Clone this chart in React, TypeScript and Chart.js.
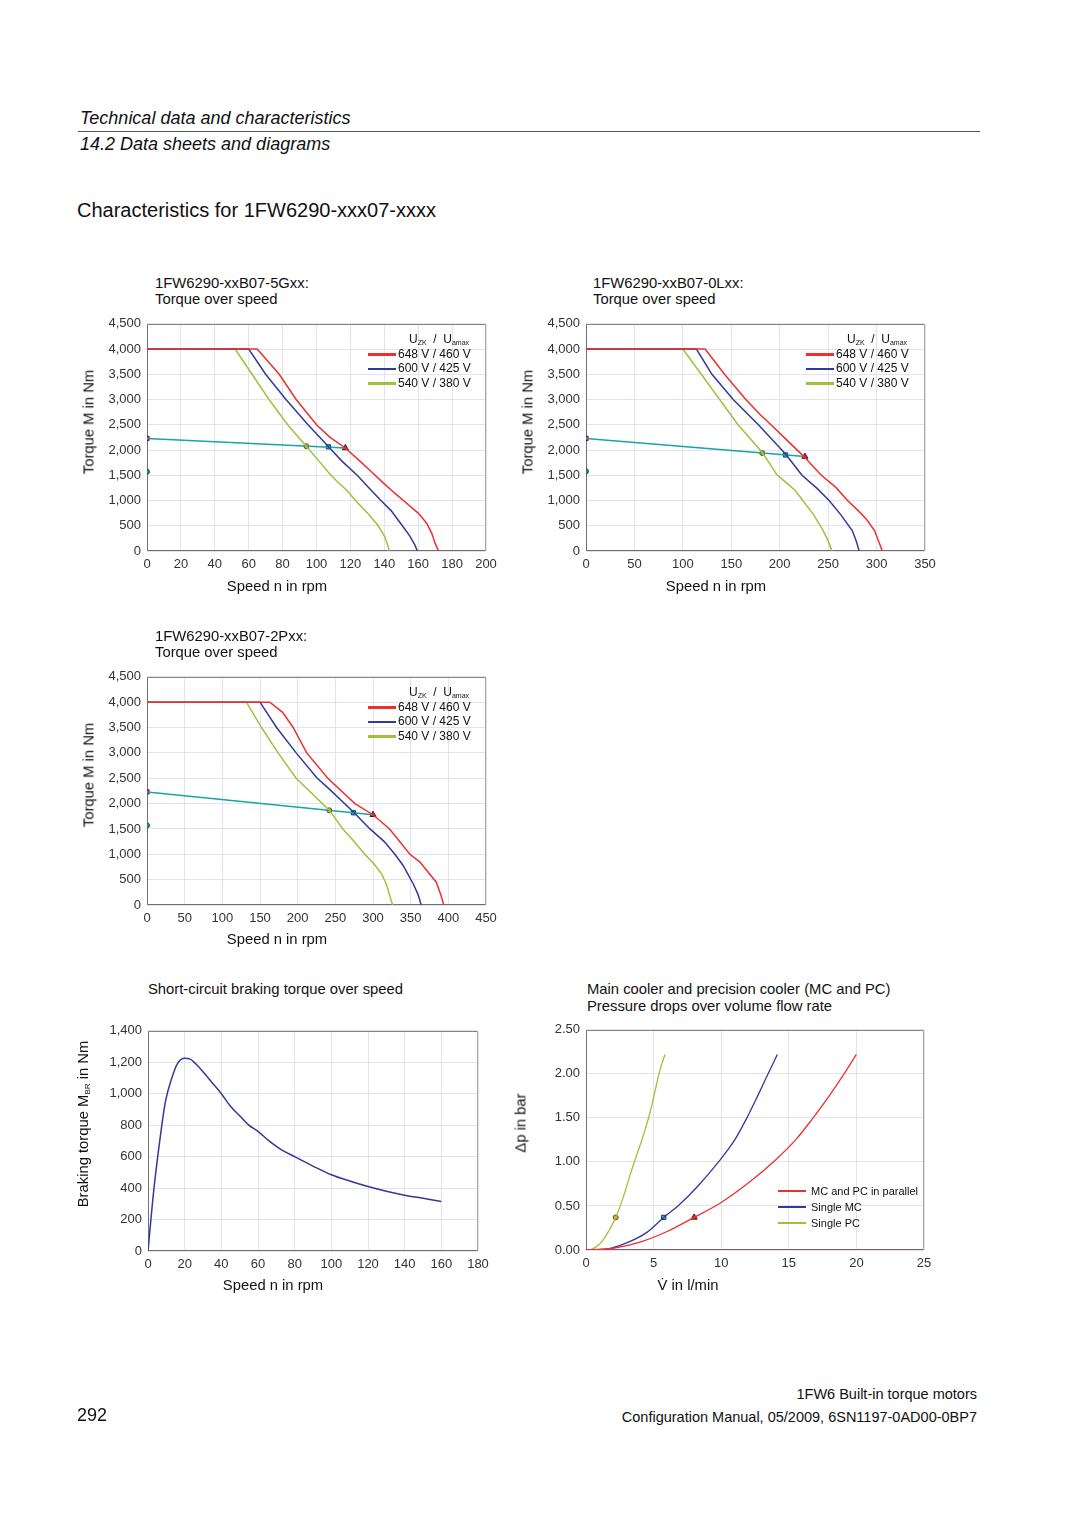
import React, { useEffect, useRef } from "react";
import { Chart, registerables } from "chart.js";
Chart.register(...registerables);

const FONT = '"Liberation Sans", Arial, Helvetica, sans-serif';

const RED = "#ec3030";
const BLUE = "#323a98";
const GREEN = "#9cc43a";
const TEAL = "#1aa3a8";

// ---------- Chart 1: 1FW6290-xxB07-5Gxx ----------
const c1Red = [[0,4000],[65,4000],[78,3500],[88,3000],[100,2500],[108,2250],[117,2040],[125,1800],[133,1550],[140,1330],[146,1150],[153,950],[160,750],[165,550],[168,350],[170,150],[172,0]];
const c1Blue = [[0,4000],[60,4000],[70,3500],[82,3000],[95,2500],[107,2070],[115,1780],[124,1500],[131,1250],[138,1000],[144,800],[150,530],[155,300],[158,120],[159.5,0]];
const c1Green = [[0,4000],[52,4000],[62,3500],[72,3000],[83,2500],[94,2075],[101,1800],[107,1560],[112,1380],[118,1200],[123,1000],[131,720],[136,520],[140,300],[142,120],[143,0]];
const c1Teal = [[0,2230],[117,2040]];
const c1Pts = { start: [0,2230], cont: [0,1570], orange: [94,2077], cyan: [107,2063], tri: [117,2040] };

// ---------- Chart 2: 1FW6290-xxB07-0Lxx ----------
const c2Red = [[0,4000],[123,4000],[143,3500],[165,3000],[180,2700],[191,2500],[205,2240],[225,1870],[243,1500],[258,1260],[270,1000],[281,800],[290,620],[298,400],[302,200],[306,0]];
const c2Blue = [[0,4000],[114,4000],[130,3500],[152,3000],[178,2500],[206,1920],[223,1500],[238,1250],[251,1000],[263,720],[275,400],[279,200],[282,0]];
const c2Green = [[0,4000],[100,4000],[119,3500],[138,3000],[157,2500],[182,1950],[190,1720],[197,1510],[204,1400],[210,1300],[216,1200],[223,1020],[235,720],[245,400],[250,200],[254,0]];
const c2Teal = [[0,2230],[226,1870]];
const c2Pts = { start: [0,2230], cont: [0,1580], orange: [182,1940], cyan: [206,1902], tri: [226,1870] };

// ---------- Chart 3: 1FW6290-xxB07-2Pxx ----------
const c3Red = [[0,4000],[163,4000],[180,3800],[194,3500],[212,3000],[240,2500],[276,2000],[300,1780],[322,1500],[349,1000],[362,850],[384,450],[390,200],[394,0]];
const c3Blue = [[0,4000],[150,4000],[172,3500],[198,3000],[226,2500],[241,2300],[274,1835],[296,1500],[315,1250],[329,1000],[340,780],[354,400],[360,200],[364,0]];
const c3Green = [[0,4000],[132,4000],[152,3500],[174,3000],[198,2500],[242,1870],[260,1500],[275,1250],[289,1000],[302,800],[312,600],[318,400],[322,200],[326,0]];
const c3Teal = [[0,2230],[300,1780]];
const c3Pts = { start: [0,2230], cont: [0,1570], orange: [242,1867], cyan: [274,1819], tri: [300,1780] };

// ---------- Chart 4: short-circuit braking torque ----------
const c4Brake = [[0,0],[3,370],[6.4,700],[9.5,950],[13,1100],[16,1190],[20,1225],[23,1220],[26,1190],[30,1140],[35,1070],[40,1000],[45,920],[50,860],[55,800],[60,760],[66,700],[72,650],[80,600],[90,540],[100,485],[110,445],[120,410],[130,380],[140,355],[150,335],[160,315]];

// ---------- Chart 5: pressure drops ----------
const c5Parallel = [[0,0],[2,0.02],[4,0.09],[6,0.21],[8,0.37],[10,0.54],[12,0.76],[14,1.02],[15.5,1.25],[16.7,1.48],[17.9,1.73],[19,1.98],[20,2.22]];
const c5SingleMC = [[0,0],[1.5,0.01],[3,0.08],[4.5,0.2],[5.75,0.37],[6.8,0.5],[8.3,0.73],[9.8,1.0],[11,1.25],[11.9,1.5],[12.7,1.75],[13.47,2.0],[14.15,2.22]];
const c5SinglePC = [[0.3,0],[0.7,0.03],[1.2,0.1],[1.7,0.22],[2.2,0.37],[2.8,0.62],[3.3,0.87],[3.8,1.1],[4.3,1.33],[4.75,1.57],[5.1,1.8],[5.45,2.03],[5.84,2.22]];
const c5Pts = { orange: [2.2,0.37], cyan: [5.75,0.37], tri: [8.0,0.37] };

const torqueLegend = ["648 V / 460 V", "600 V / 425 V", "540 V / 380 V"];
const coolerLegend = ["MC and PC in parallel", "Single MC", "Single PC"];

const xy = (arr: number[][]) => arr.map(([x, y]) => ({ x, y }));

const lineDs = (data: number[][], color: string, width = 1.5, smooth = false) => ({
  data: xy(data),
  showLine: true,
  borderColor: color,
  backgroundColor: color,
  borderWidth: width,
  pointRadius: 0,
  tension: 0,
  cubicInterpolationMode: smooth ? "monotone" : "default",
});

const markerDs = (p: number[], style: string, fill: string, border: string, r = 3.5) => ({
  data: [{ x: p[0], y: p[1] }],
  showLine: false,
  pointStyle: style,
  pointRadius: r,
  backgroundColor: fill,
  borderColor: border,
  borderWidth: 1,
});

const framePlugin = {
  id: "frame",
  beforeDatasetsDraw(chart: any, _a: any, o: any) {
    const { ctx, chartArea: a } = chart;
    const l = Math.round(a.left) + 0.5, r = Math.round(a.right) - 0.5;
    const t = Math.round(a.top) + 0.5, b = Math.round(a.bottom) - 0.5;
    const seg = (x1: number, y1: number, x2: number, y2: number, c: string) => {
      ctx.beginPath(); ctx.strokeStyle = c; ctx.lineWidth = 1;
      ctx.moveTo(x1, y1); ctx.lineTo(x2, y2); ctx.stroke();
    };
    ctx.save();
    seg(l, t, r, t, o.top || "#a07878");
    seg(r, t, r, b, o.right || "#a8a8a8");
    seg(l, b, r, b, o.bottom || "#707070");
    seg(l, t, l, b, o.left || "#707070");
    ctx.restore();
  },
};

const PAD_L = 60, PAD_T = 12, PAD_R = 24, PAD_B = 30;

function makeConfig(datasets: any[], xMax: number, xStep: number, yMax: number, yStep: number, yFmt?: (v: number) => string, bottomColor?: string) {
  const tickFont = { family: FONT, size: 13 };
  const grid = { color: "#e3e3f0", drawTicks: false, lineWidth: 1 };
  return {
    type: "scatter",
    data: { datasets },
    plugins: [framePlugin],
    options: {
      animation: false,
      responsive: false,
      devicePixelRatio: 1,
      layout: { padding: { left: 0, top: PAD_T, right: PAD_R, bottom: 0 } },
      plugins: {
        legend: { display: false },
        tooltip: { enabled: false },
        frame: { bottom: bottomColor },
      },
      scales: {
        x: {
          type: "linear", min: 0, max: xMax,
          ticks: { stepSize: xStep, padding: 6, color: "#333", font: tickFont, maxRotation: 0, autoSkip: false },
          grid, border: { display: false },
          afterFit: (s: any) => { s.height = PAD_B; },
        },
        y: {
          type: "linear", min: 0, max: yMax,
          ticks: { stepSize: yStep, padding: 6, color: "#333", font: tickFont, autoSkip: false, ...(yFmt ? { callback: (v: any) => yFmt(Number(v)) } : {}) },
          grid, border: { display: false },
          afterFit: (s: any) => { s.width = PAD_L; },
        },
      },
    },
  };
}

function torqueDatasets(red: number[][], blue: number[][], green: number[][], teal: number[][], pts: any) {
  return [
    lineDs(red, RED),
    lineDs(blue, BLUE),
    lineDs(green, GREEN),
    lineDs(teal, TEAL),
    markerDs(pts.start, "rect", "#e6197f", "#7a1040", 3),
    markerDs(pts.cont, "circle", "#1e9a4a", "#0d5a2a", 2.5),
    markerDs(pts.orange, "circle", "#f0a030", "#6a4a10", 2.5),
    markerDs(pts.cyan, "rect", "#30b8e8", "#103a5a", 3),
    markerDs(pts.tri, "triangle", "#cc2030", "#601010", 3.5),
  ];
}

function Plot({ L, T, R, B, config }: { L: number; T: number; R: number; B: number; config: () => any }) {
  const ref = useRef<HTMLCanvasElement>(null);
  const w = R - L + PAD_L + PAD_R;
  const h = B - T + PAD_T + PAD_B;
  useEffect(() => {
    const chart = new Chart(ref.current as HTMLCanvasElement, config() as any);
    return () => chart.destroy();
  }, []);
  return (
    <canvas ref={ref} width={w} height={h}
      style={{ position: "absolute", left: L - PAD_L, top: T - PAD_T, width: w, height: h }} />
  );
}

function Txt({ x, y, size = 14.8, align = "left", italic = false, children }: any) {
  const lh = size * 1.15;
  const style: any = {
    position: "absolute", top: y - lh / 2, lineHeight: `${lh}px`, fontSize: size,
    fontFamily: FONT, color: "#111", whiteSpace: "nowrap", fontStyle: italic ? "italic" : "normal",
  };
  if (align === "left") style.left = x;
  else if (align === "right") style.right = 1080 - x;
  else { style.left = x; style.transform = "translateX(-50%)"; }
  return <div style={style}>{children}</div>;
}

function VTxt({ x, y, size = 14.8, children }: any) {
  return (
    <div style={{
      position: "absolute", left: x, top: y, fontSize: size, fontFamily: FONT, color: "#111",
      whiteSpace: "nowrap", lineHeight: `${size * 1.15}px`,
      transform: "translate(-50%, -50%) rotate(-90deg)",
    }}>{children}</div>
  );
}

function Legend({ x, y, labels, colors, size = 12, gap = 14.5, lineW = 28, textX = 30, header = true, headerX = 41 }: any) {
  return (
    <>
      {header && (
        <div style={{ position: "absolute", left: x + headerX, top: y - 7.5, fontSize: size, fontFamily: FONT, color: "#111", whiteSpace: "nowrap", lineHeight: "14px" }}>
          U<sub style={{ fontSize: 7, verticalAlign: "-2px" }}>ZK</sub>&nbsp;&nbsp;/&nbsp;&nbsp;U<sub style={{ fontSize: 7, verticalAlign: "-2px" }}>amax</sub>
        </div>
      )}
      {labels.map((l: string, i: number) => {
        const cy = y + (header ? gap + 1 : 0) + i * gap;
        return (
          <React.Fragment key={i}>
            <div style={{ position: "absolute", left: x, top: cy - 1.25, width: lineW, height: 2.5, background: colors[i] }} />
            <Txt x={x + textX} y={cy} size={size}>{l}</Txt>
          </React.Fragment>
        );
      })}
    </>
  );
}

const fmt2 = (v: number) => v.toFixed(2);

export default function App() {
  return (
    <div style={{ position: "absolute", left: 0, top: 0, width: 1080, height: 1527, background: "#fff", overflow: "hidden" }}>
      <Txt x={80} y={118} size={18} italic>Technical data and characteristics</Txt>
      <div style={{ position: "absolute", left: 78, top: 131, width: 902, height: 1, background: "#555" }} />
      <Txt x={80} y={144} size={18} italic>14.2 Data sheets and diagrams</Txt>
      <Txt x={77} y={210} size={20}>Characteristics for 1FW6290-xxx07-xxxx</Txt>

      {/* Chart 1 */}
      <Txt x={155} y={284}>1FW6290-xxB07-5Gxx:</Txt>
      <Txt x={155} y={300}>Torque over speed</Txt>
      <Plot L={147} T={322} R={486} B={551}
        config={() => makeConfig(torqueDatasets(c1Red, c1Blue, c1Green, c1Teal, c1Pts), 200, 20, 4500, 500)} />
      <Legend x={368} y={339} labels={torqueLegend} colors={[RED, BLUE, GREEN]} />
      <VTxt x={89} y={422}>Torque M in Nm</VTxt>
      <Txt x={277} y={587} align="center">Speed n in rpm</Txt>

      {/* Chart 2 */}
      <Txt x={593} y={284}>1FW6290-xxB07-0Lxx:</Txt>
      <Txt x={593} y={300}>Torque over speed</Txt>
      <Plot L={586} T={322} R={925} B={551}
        config={() => makeConfig(torqueDatasets(c2Red, c2Blue, c2Green, c2Teal, c2Pts), 350, 50, 4500, 500)} />
      <Legend x={806} y={339} labels={torqueLegend} colors={[RED, BLUE, GREEN]} />
      <VTxt x={528} y={422}>Torque M in Nm</VTxt>
      <Txt x={716} y={587} align="center">Speed n in rpm</Txt>

      {/* Chart 3 */}
      <Txt x={155} y={637}>1FW6290-xxB07-2Pxx:</Txt>
      <Txt x={155} y={653}>Torque over speed</Txt>
      <Plot L={147} T={675} R={486} B={905}
        config={() => makeConfig(torqueDatasets(c3Red, c3Blue, c3Green, c3Teal, c3Pts), 450, 50, 4500, 500)} />
      <Legend x={368} y={692} labels={torqueLegend} colors={[RED, BLUE, GREEN]} />
      <VTxt x={89} y={775}>Torque M in Nm</VTxt>
      <Txt x={277} y={940} align="center">Speed n in rpm</Txt>

      {/* Chart 4 */}
      <Txt x={148} y={990}>Short-circuit braking torque over speed</Txt>
      <Plot L={148} T={1029} R={478} B={1251}
        config={() => makeConfig([lineDs(c4Brake, BLUE, 1.5, true)], 180, 20, 1400, 200)} />
      <VTxt x={86} y={1124}>Braking torque M<sub style={{ fontSize: 8, verticalAlign: "-2px" }}>BR</sub> in Nm</VTxt>
      <Txt x={273} y={1286} align="center">Speed n in rpm</Txt>

      {/* Chart 5 */}
      <Txt x={587} y={990}>Main cooler and precision cooler (MC and PC)</Txt>
      <Txt x={587} y={1007}>Pressure drops over volume flow rate</Txt>
      <Plot L={586} T={1028} R={924} B={1250}
        config={() => makeConfig([
          lineDs(c5Parallel, RED, 1.3, true),
          lineDs(c5SingleMC, BLUE, 1.3, true),
          lineDs(c5SinglePC, GREEN, 1.3, true),
          markerDs(c5Pts.orange, "circle", "#f0a030", "#6a4a10", 2.5),
          markerDs(c5Pts.cyan, "rect", "#30b8e8", "#103a5a", 3),
          markerDs(c5Pts.tri, "triangle", "#cc2030", "#601010", 3.5),
        ], 25, 5, 2.5, 0.5, fmt2, "#8a5a62")} />
      <Legend x={778} y={1191} labels={coolerLegend} colors={[RED, BLUE, GREEN]} size={11} gap={16} textX={33} header={false} />
      <VTxt x={521} y={1123}>Δp in bar</VTxt>
      <Txt x={688} y={1286} align="center">V̇ in l/min</Txt>

      {/* Footer */}
      <Txt x={977} y={1394} size={14.5} align="right">1FW6 Built-in torque motors</Txt>
      <Txt x={977} y={1417} size={14.5} align="right">Configuration Manual, 05/2009, 6SN1197-0AD00-0BP7</Txt>
      <Txt x={77} y={1415} size={18}>292</Txt>
    </div>
  );
}
